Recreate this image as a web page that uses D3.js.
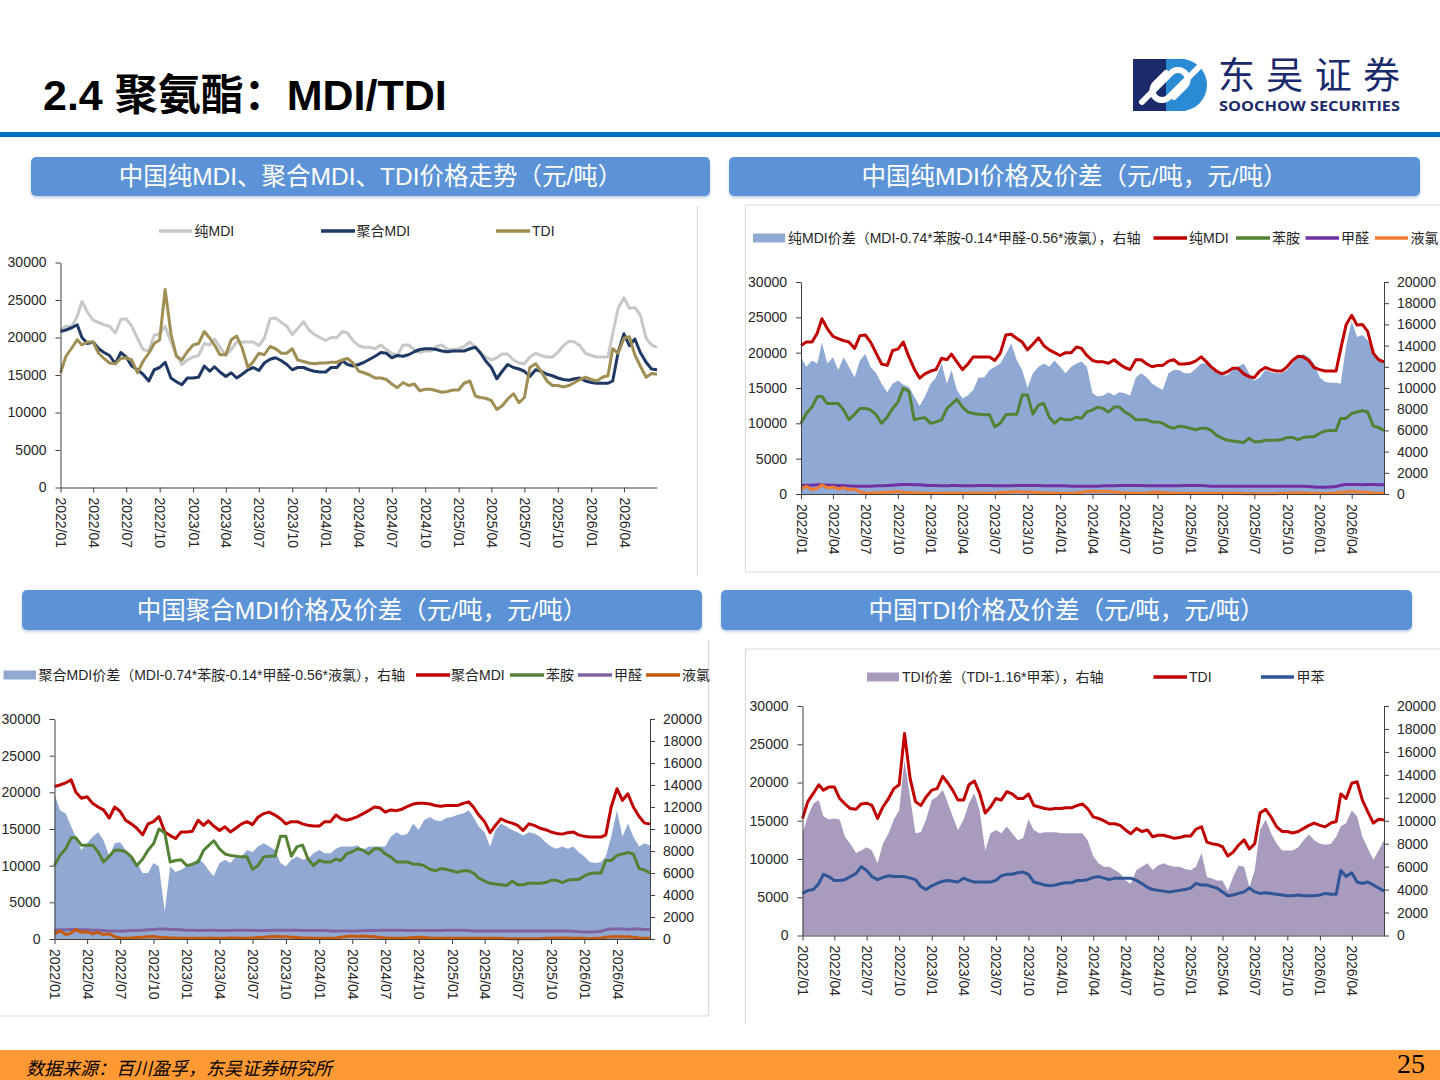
<!DOCTYPE html>
<html lang="zh">
<head>
<meta charset="UTF-8">
<title>2.4 聚氨酯：MDI/TDI</title>
<script src="https://d3js.org/d3.v7.min.js"></script>
<style>
  body { margin: 0; background: #fff; }
  svg { display: block; }
  text { font-family: "Liberation Sans", "Noto Sans CJK SC", sans-serif; }
</style>
</head>
<body>
<svg id="page" width="1440" height="1080"></svg>
<script>
// half-month points, 2022/01/01 .. 2026/07/01 (109 points)
const dates = d3.range(109).map(i => new Date(2022, Math.floor(i / 2), i % 2 ? 16 : 1));
const tickDates = d3.range(18).map(q => new Date(2022, q * 3, 1));

// 纯MDI
const pureMDI = [
  21000,21500,21500,22800,24800,23400,22300,22000,21700,21500,20600,22400,22500,21500,19900,18400,18200,20300,20500,21500,19400,17700,16400,17000,
  17400,17600,19200,19000,19800,18700,17600,18400,19400,19400,19400,19400,18900,19900,22500,22600,22000,21500,20400,21200,22100,21000,20400,20000,
  19600,20000,20000,20800,20600,19600,18900,18700,18700,18500,19000,18400,17900,17600,19000,19000,18400,18000,18200,18200,18800,19000,18400,18400,
  18500,18800,19400,18700,18000,17400,17000,17300,17800,17800,17000,16600,16500,17400,17900,17600,17400,17400,18000,18900,19500,19400,18900,17900,
  17600,17400,17400,17400,20500,23900,25300,23900,24000,23000,19900,19000,18700
];
// 聚合MDI
const polyMDI = [
  20800,21000,21300,21700,20000,19200,19400,18500,18000,17600,16500,18000,17400,16200,15700,15100,14200,15700,16000,16700,14600,14100,13700,14600,
  14600,14700,16200,15500,16100,15400,14800,15300,14600,15100,15700,16000,15600,16600,17100,17300,16900,16400,15700,16000,16000,15700,15500,15400,
  15400,16000,16000,16900,16400,16200,16400,16700,17100,17500,18000,17900,17300,17600,17500,17700,18100,18400,18500,18500,18400,18200,18100,18200,
  18200,18200,18500,18700,18000,16900,16000,14500,15500,16400,16000,15800,15500,14800,15700,15500,15100,14900,14600,14400,14300,14500,14600,14200,
  14000,13900,13900,13900,14200,18000,20500,18900,19800,18000,16700,15800,15700
];
// TDI
const tdi = [
  15300,17500,18600,19700,19000,19400,19400,17900,17200,16600,16500,17200,17300,17000,15300,16800,17900,19200,19700,26400,20500,17500,17000,18100,
  19000,19200,20800,19900,19000,17700,17700,19700,20200,18600,16000,16800,17900,17700,18800,18500,17900,17900,18500,17000,16800,16600,16500,16600,
  16600,16700,16700,17000,17200,16600,15500,15300,15000,14600,14600,14400,13800,13300,14000,13600,13800,12900,13100,13100,12900,12700,12800,13000,
  13000,13900,14200,12200,12000,11900,11600,10400,10900,11800,12500,11300,12000,16000,16500,15500,14200,13600,13600,13400,13600,14000,14400,14700,
  14400,14200,14700,14900,18500,17900,19900,20100,17700,16200,14700,15200,15100
];
// 苯胺
const aniline = [
  10000,11400,12300,13800,13800,12800,12800,12800,11900,10500,11300,12100,12100,11900,11200,10000,10900,12100,13000,15000,14500,10500,10700,10800,
  10000,10200,10500,12100,12700,13400,12300,11600,11400,11300,11200,11200,9500,10000,11200,11300,11300,14000,14000,11300,12600,12800,10900,10000,
  10700,10500,10500,10900,10700,11600,11900,12300,12100,11600,12300,12300,11600,11200,10500,10500,10500,10200,10200,10000,9500,9300,9600,9500,
  9300,9100,9300,9300,9000,8300,7900,7600,7500,7400,7300,7900,7400,7400,7600,7600,7600,7700,8000,8000,7700,8000,8100,8100,
  8600,8900,9000,9000,10700,10700,11400,11600,11800,11600,9600,9400,9000
];
// 甲醛
const formaldehyde = [
  1200,1250,1250,1300,1300,1250,1250,1200,1200,1150,1100,1100,1100,1100,1150,1150,1200,1250,1300,1350,1350,1300,1300,1250,
  1200,1200,1150,1150,1200,1200,1150,1150,1150,1200,1200,1200,1150,1150,1150,1150,1200,1200,1200,1200,1200,1150,1150,1150,
  1150,1150,1100,1100,1100,1100,1100,1100,1150,1150,1150,1200,1200,1200,1200,1200,1150,1150,1150,1150,1150,1150,1150,1200,
  1200,1200,1200,1150,1100,1100,1100,1100,1100,1100,1100,1100,1100,1100,1100,1100,1100,1100,1100,1100,1100,1100,1050,1000,
  950,950,1000,1050,1250,1350,1350,1350,1300,1350,1350,1300,1300
];
// 液氯
const chlorine = [
  700,1100,600,800,1300,900,1000,700,900,600,700,300,150,100,150,200,250,300,350,250,200,150,150,100,
  100,100,100,100,150,100,100,100,150,150,100,100,150,200,250,300,350,300,300,250,200,150,150,100,
  100,100,100,150,250,350,400,350,400,350,300,200,150,100,100,100,150,200,250,200,150,100,100,100,
  100,100,100,100,100,100,100,100,100,100,50,50,50,50,50,50,50,100,100,150,150,150,100,100,
  100,50,100,150,250,300,350,300,300,250,150,100,100
];
// 甲苯
const toluene = [
  5500,5900,6000,6800,8000,7700,7200,7200,7300,7700,8100,9000,8500,7700,7300,7600,7800,7700,7700,7700,7500,7300,6400,6000,
  6500,6800,7100,7200,7100,7000,7500,7200,7000,7000,7000,7000,7200,7800,8000,8000,8200,8300,8000,7000,6800,6600,6500,6600,
  6800,6900,6900,7200,7200,7300,7600,7700,7500,7300,7500,7500,7500,7500,7200,6800,6300,6000,5900,5800,5700,5800,5900,6000,
  6200,6800,6600,6600,6400,6200,5700,5200,5300,5500,5700,6200,5700,5500,5600,5500,5400,5300,5200,5200,5300,5200,5200,5200,
  5300,5500,5400,5400,8500,7700,8200,7000,6800,7000,6600,6200,5800
];
// 纯MDI价差（右轴）
const pureSpread = [
  12900,12000,12600,12300,14300,12300,12900,11700,12900,12000,11000,12600,13200,12000,11400,10400,9600,10400,10700,10300,10100,9200,8300,9200,
  10400,11000,12300,10400,11700,9800,9000,9300,9800,11000,11000,11700,12000,12300,13200,14200,12600,11700,10000,11400,12000,12300,12000,12600,
  12000,11400,12000,12300,12500,12000,9500,9200,9300,9600,9300,9600,9500,9300,11000,11400,11000,10400,10100,9800,11400,11700,11700,11400,
  11400,11800,12300,12300,11800,11500,11200,11200,11700,12000,12300,11400,10700,11000,11700,11500,11400,11400,11700,12300,12900,13200,12900,12300,
  11000,10600,10500,10500,10400,13900,16300,14800,15000,14500,13600,12600,12500
];
// 聚合MDI价差（右轴）
const polySpread = [
  13200,11700,11400,10200,9300,8100,8700,9300,9700,9000,7500,8700,8800,8100,7600,6900,6000,6000,6900,6600,2500,6600,6100,6300,
  6600,6900,7300,6900,6300,5700,6900,7200,6900,7500,7500,8100,7900,8400,8700,8400,8100,6900,6600,7200,7500,7200,7300,7800,
  8100,7800,7800,8200,8400,8400,8400,8500,8100,8400,8400,8400,8400,9300,9700,9400,9600,10500,9900,10800,11100,10800,10700,11000,
  11100,11300,11400,11700,11100,10200,9700,8400,9900,10500,10200,9900,9700,9400,9700,9600,9300,8800,8400,8200,8400,8200,8400,7900,
  7500,7000,6900,7000,7500,9300,11700,9300,10500,9300,8400,8700,8500
];
// TDI价差（右轴）
const tdiSpread = [
  8900,10400,11500,11800,10400,10100,10200,10100,8600,8000,7200,7400,7700,7400,6300,8000,8900,10100,10900,15300,12000,8900,9000,10100,
  11800,12100,12700,11500,10400,9200,10100,11500,12400,10900,7400,8900,9200,8900,9500,8900,8300,8500,10100,9200,8900,9000,9000,9000,
  8900,8900,8900,8900,8900,8300,6900,6300,6000,6000,5700,5400,4800,4500,5700,6000,6300,5700,6100,6300,6100,6000,6000,5800,
  5700,6000,7200,5100,5000,4800,4800,3900,5100,6100,6000,4200,5700,9200,10100,8900,8000,7400,7400,7400,7700,8300,8800,8300,
  8000,7900,8000,8600,9500,9800,10900,10400,8600,7600,6600,7400,8300
];

const leftTicks = [0, 5000, 10000, 15000, 20000, 25000, 30000];
const rightTicks = [0, 2000, 4000, 6000, 8000, 10000, 12000, 14000, 16000, 18000, 20000];

const svg = d3.select("#page");
const fmt = d3.timeFormat("%Y/%m");
const numFmt = d3.format("d");

// ---------- header ----------
svg.append("text")
  .attr("x", 43).attr("y", 110)
  .attr("font-size", 43).attr("font-weight", 700).attr("fill", "#000")
  .text("2.4 聚氨酯：MDI/TDI");

svg.append("rect").attr("x", 0).attr("y", 132).attr("width", 1440).attr("height", 5).attr("fill", "#0070C0");

// logo
const logo = svg.append("g");
logo.append("rect").attr("x", 1133).attr("y", 59).attr("width", 52).attr("height", 52).attr("fill", "#1B2A6B");
logo.append("path").attr("d", "M1166,59 H1181 A26,26 0 0 1 1181,111 H1166 Z").attr("fill", "#2A8AD4");
logo.append("path").attr("d", "M1142,102 L1171,73 A9.5,9.5 0 0 1 1185,86 L1174,97")
  .attr("fill", "none").attr("stroke", "#fff").attr("stroke-width", 6).attr("stroke-linecap", "round");
logo.append("path").attr("d", "M1198,68 L1169,97 A9.5,9.5 0 0 1 1155,84 L1166,73")
  .attr("fill", "none").attr("stroke", "#fff").attr("stroke-width", 6).attr("stroke-linecap", "round");
svg.append("text")
  .attr("x", 1218).attr("y", 89)
  .attr("font-size", 37).attr("fill", "#1B2A6B")
  .attr("textLength", 182).attr("lengthAdjust", "spacing")
  .style("font-family", "'Noto Sans CJK SC', sans-serif")
  .text("东吴证券");
svg.append("text")
  .attr("x", 1219).attr("y", 111)
  .attr("font-size", 14).attr("font-weight", 700).attr("fill", "#1B2A6B")
  .attr("textLength", 181).attr("lengthAdjust", "spacingAndGlyphs")
  .style("font-family", "'Open Sans', 'Liberation Sans', sans-serif")
  .text("SOOCHOW SECURITIES");

// ---------- title bars ----------
const defs = svg.append("defs");
defs.append("filter").attr("id", "shadow").attr("x", "-5%").attr("y", "-20%").attr("width", "110%").attr("height", "150%")
  .append("feDropShadow").attr("dx", 0).attr("dy", 2).attr("stdDeviation", 1.5)
  .attr("flood-color", "#7f9cc6").attr("flood-opacity", 0.45);

function titleBar(x0, x1, y0, y1, label) {
  svg.append("rect")
    .attr("x", x0).attr("y", y0).attr("width", x1 - x0).attr("height", y1 - y0)
    .attr("rx", 5).attr("fill", "#5B93D6").attr("filter", "url(#shadow)");
  svg.append("text")
    .attr("x", (x0 + x1) / 2).attr("y", (y0 + y1) / 2).attr("dy", "0.36em")
    .attr("text-anchor", "middle").attr("font-size", 24.5).attr("fill", "#fff")
    .text(label);
}
titleBar(31, 710, 157, 196, "中国纯MDI、聚合MDI、TDI价格走势（元/吨）");
titleBar(729, 1420, 157, 196, "中国纯MDI价格及价差（元/吨，元/吨）");
titleBar(22, 702, 590, 630, "中国聚合MDI价格及价差（元/吨，元/吨）");
titleBar(721, 1412, 590, 630, "中国TDI价格及价差（元/吨，元/吨）");

// ---------- frames ----------
const frame = "#D9D9D9";
function seg(x1, y1, x2, y2) {
  svg.append("line").attr("x1", x1).attr("y1", y1).attr("x2", x2).attr("y2", y2)
    .attr("stroke", frame).attr("stroke-width", 1.2);
}
seg(697.5, 206, 697.5, 576);
seg(745.5, 205, 1440, 205); seg(745.5, 205, 745.5, 572); seg(745.5, 572, 1440, 572);
seg(708.5, 640, 708.5, 1016); seg(0, 1016, 708.5, 1016);
seg(745.5, 649, 1440, 649); seg(745.5, 649, 745.5, 1024);

// ---------- panels ----------
function drawPanel(p) {
  const g = svg.append("g");
  const x = d3.scaleTime().domain([dates[0], dates[dates.length - 1]]).range([p.left, p.right]);
  const yL = d3.scaleLinear().domain([0, 30000]).range([p.bottom, p.top]);
  const yR = d3.scaleLinear().domain([0, 20000]).range([p.bottom, p.top]);

  if (p.area) {
    g.append("path").datum(p.area.values)
      .attr("fill", p.area.color)
      .attr("d", d3.area().x((d, i) => x(dates[i])).y0(yR(0)).y1(d => yR(d)));
  }
  p.lines.forEach(s => {
    g.append("path").datum(s.values)
      .attr("fill", "none")
      .attr("stroke", s.color)
      .attr("stroke-width", p.lineWidth)
      .attr("stroke-linejoin", "round")
      .attr("d", d3.line().x((d, i) => x(dates[i])).y(d => yL(d)));
  });

  g.append("g").attr("transform", `translate(${p.left},0)`)
    .call(d3.axisLeft(yL).tickValues(leftTicks).tickFormat(numFmt).tickSize(5).tickSizeOuter(0).tickPadding(9));
  if (p.area) {
    g.append("g").attr("transform", `translate(${p.right},0)`)
      .call(d3.axisRight(yR).tickValues(rightTicks).tickFormat(numFmt).tickSize(5).tickSizeOuter(0).tickPadding(8));
  }
  const axB = g.append("g").attr("transform", `translate(0,${p.bottom})`)
    .call(d3.axisBottom(x).tickValues(tickDates).tickFormat(fmt).tickSize(5).tickSizeOuter(0));
  axB.selectAll("text")
    .attr("transform", "rotate(90)")
    .attr("x", 10).attr("y", 0).attr("dy", "0.35em")
    .attr("text-anchor", "start");

  g.selectAll(".tick text").attr("font-size", 14).attr("fill", "#262626");
  g.selectAll(".domain, .tick line").attr("stroke", "#404040");
  g.selectAll("g").attr("font-family", null).attr("font-size", null);
}

function legend(items, y) {
  items.forEach(it => {
    if (it.kind === "area") {
      svg.append("rect").attr("x", it.x0).attr("y", y - 4.5)
        .attr("width", it.x1 - it.x0).attr("height", 9).attr("fill", it.color);
    } else {
      svg.append("line").attr("x1", it.x0).attr("x2", it.x1).attr("y1", y).attr("y2", y)
        .attr("stroke", it.color).attr("stroke-width", 3.5);
    }
    svg.append("text").attr("x", it.tx).attr("y", y).attr("dy", "0.36em")
      .attr("font-size", 14).attr("fill", "#262626").text(it.label);
  });
}

// chart 1
drawPanel({
  left: 60.5, right: 657, top: 262.5, bottom: 487.5, lineWidth: 3,
  lines: [
    { values: pureMDI, color: "#C8C8C8" },
    { values: polyMDI, color: "#1F3864" },
    { values: tdi, color: "#A08F55" }
  ]
});
legend([
  { kind: "line", x0: 159, x1: 192, tx: 194.5, color: "#C8C8C8", label: "纯MDI" },
  { kind: "line", x0: 321, x1: 355, tx: 356.5, color: "#1F3864", label: "聚合MDI" },
  { kind: "line", x0: 496, x1: 530, tx: 532, color: "#A08F55", label: "TDI" }
], 231);

// chart 2
drawPanel({
  left: 801, right: 1384, top: 282, bottom: 494, lineWidth: 3,
  area: { values: pureSpread, color: "#8FA9D4" },
  lines: [
    { values: pureMDI, color: "#C00000" },
    { values: aniline, color: "#538135" },
    { values: formaldehyde, color: "#7030A0" },
    { values: chlorine, color: "#ED7D31" }
  ]
});
legend([
  { kind: "area", x0: 753, x1: 785, tx: 788, color: "#8FA9D4", label: "纯MDI价差（MDI-0.74*苯胺-0.14*甲醛-0.56*液氯），右轴" },
  { kind: "line", x0: 1153.5, x1: 1187, tx: 1189, color: "#C00000", label: "纯MDI" },
  { kind: "line", x0: 1236, x1: 1270, tx: 1272, color: "#538135", label: "苯胺" },
  { kind: "line", x0: 1305.5, x1: 1339, tx: 1341, color: "#7030A0", label: "甲醛" },
  { kind: "line", x0: 1375, x1: 1408, tx: 1410.5, color: "#ED7D31", label: "液氯" }
], 238);

// chart 3
drawPanel({
  left: 54.5, right: 650, top: 719, bottom: 939, lineWidth: 3,
  area: { values: polySpread, color: "#91A9D2" },
  lines: [
    { values: polyMDI, color: "#C00000" },
    { values: aniline, color: "#548235" },
    { values: formaldehyde, color: "#8064A2" },
    { values: chlorine, color: "#C55A11" }
  ]
});
legend([
  { kind: "area", x0: 3.5, x1: 36, tx: 38.5, color: "#91A9D2", label: "聚合MDI价差（MDI-0.74*苯胺-0.14*甲醛-0.56*液氯），右轴" },
  { kind: "line", x0: 416, x1: 450, tx: 451, color: "#C00000", label: "聚合MDI" },
  { kind: "line", x0: 510, x1: 544, tx: 546, color: "#548235", label: "苯胺" },
  { kind: "line", x0: 578, x1: 612, tx: 614, color: "#8064A2", label: "甲醛" },
  { kind: "line", x0: 646, x1: 680, tx: 682, color: "#C55A11", label: "液氯" }
], 675);

// chart 4
drawPanel({
  left: 802.5, right: 1384, top: 706, bottom: 935.5, lineWidth: 3,
  area: { values: tdiSpread, color: "#A89BBE" },
  lines: [
    { values: tdi, color: "#C00000" },
    { values: toluene, color: "#2F5597" }
  ]
});
legend([
  { kind: "area", x0: 867, x1: 899, tx: 902, color: "#A89BBE", label: "TDI价差（TDI-1.16*甲苯），右轴" },
  { kind: "line", x0: 1153.5, x1: 1187, tx: 1189, color: "#C00000", label: "TDI" },
  { kind: "line", x0: 1261, x1: 1294, tx: 1296.5, color: "#2F5597", label: "甲苯" }
], 677);

// ---------- footer ----------
svg.append("rect").attr("x", 0).attr("y", 1050).attr("width", 1440).attr("height", 30).attr("fill", "#FF9933");
svg.append("text")
  .attr("x", 26).attr("y", 1075)
  .attr("font-size", 18).attr("font-style", "italic").attr("fill", "#000")
  .style("font-family", "'Noto Sans CJK SC', sans-serif")
  .text("数据来源：百川盈孚，东吴证券研究所");
svg.append("text")
  .attr("x", 1425).attr("y", 1073)
  .attr("text-anchor", "end").attr("font-size", 28).attr("fill", "#000")
  .style("font-family", "'Liberation Serif', serif")
  .text("25");
</script>
</body>
</html>
